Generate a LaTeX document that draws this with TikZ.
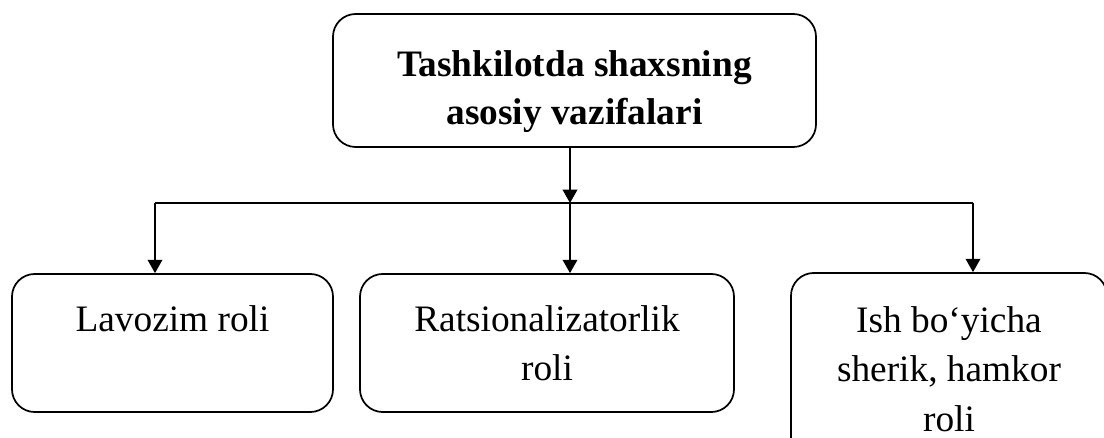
\documentclass[tikz,border=0pt]{standalone}
\usepackage{fontspec}
\setmainfont{Liberation Serif}
\usetikzlibrary{arrows.meta}

\begin{document}
\begin{tikzpicture}[x=0.75pt,y=0.75pt,yscale=-1,xscale=1,
    rolebox/.style={draw, line width=1.3pt, rounded corners=17pt, inner sep=0pt, align=center,
      font=\fontsize{28}{37}\selectfont},
    arr/.style={line width=1.1pt, -{Triangle[length=10pt,width=11pt]}}]
        \useasboundingbox (0,0) rectangle (1104,438);

        %Shape: Rounded Rect [id:top] 
        \node [rolebox, minimum width=362.25pt, minimum height=99.75pt, font=\bfseries\fontsize{28}{36}\selectfont] (vazifa) at (574.5,80.5) {\rule{0pt}{36pt}Tashkilotda shaxsning\\asosiy vazifalari};
        %Shape: Rounded Rect [id:left] 
        \node [rolebox, minimum width=240.75pt, minimum height=103.5pt] (lavozim) at (172.5,343) {Lavozim roli\\\mbox{}};
        %Shape: Rounded Rect [id:mid] 
        \node [rolebox, minimum width=280.5pt, minimum height=103.5pt] (ratsion) at (547,343) {Ratsionalizatorlik\\roli};
        %Shape: Rounded Rect [id:right] 
        \node [rolebox, minimum width=237pt, minimum height=144pt] (hamkor) at (949,369) {Ish bo‘yicha\\sherik, hamkor\\roli};

        %Straight Lines [id:bus] 
        \coordinate (busL) at (155,203);
        \coordinate (bus) at (570,203);
        \coordinate (busR) at (973,203);
        \draw [line width=1.1pt] (busL) -- (busR);
        \draw [arr] (bus |- vazifa.south) -- (bus);
        \draw [arr] (busL) -- (busL |- lavozim.north);
        \draw [arr] (bus) -- (bus |- ratsion.north);
        \draw [arr] (busR) -- (busR |- hamkor.north);

\end{tikzpicture}
\end{document}
